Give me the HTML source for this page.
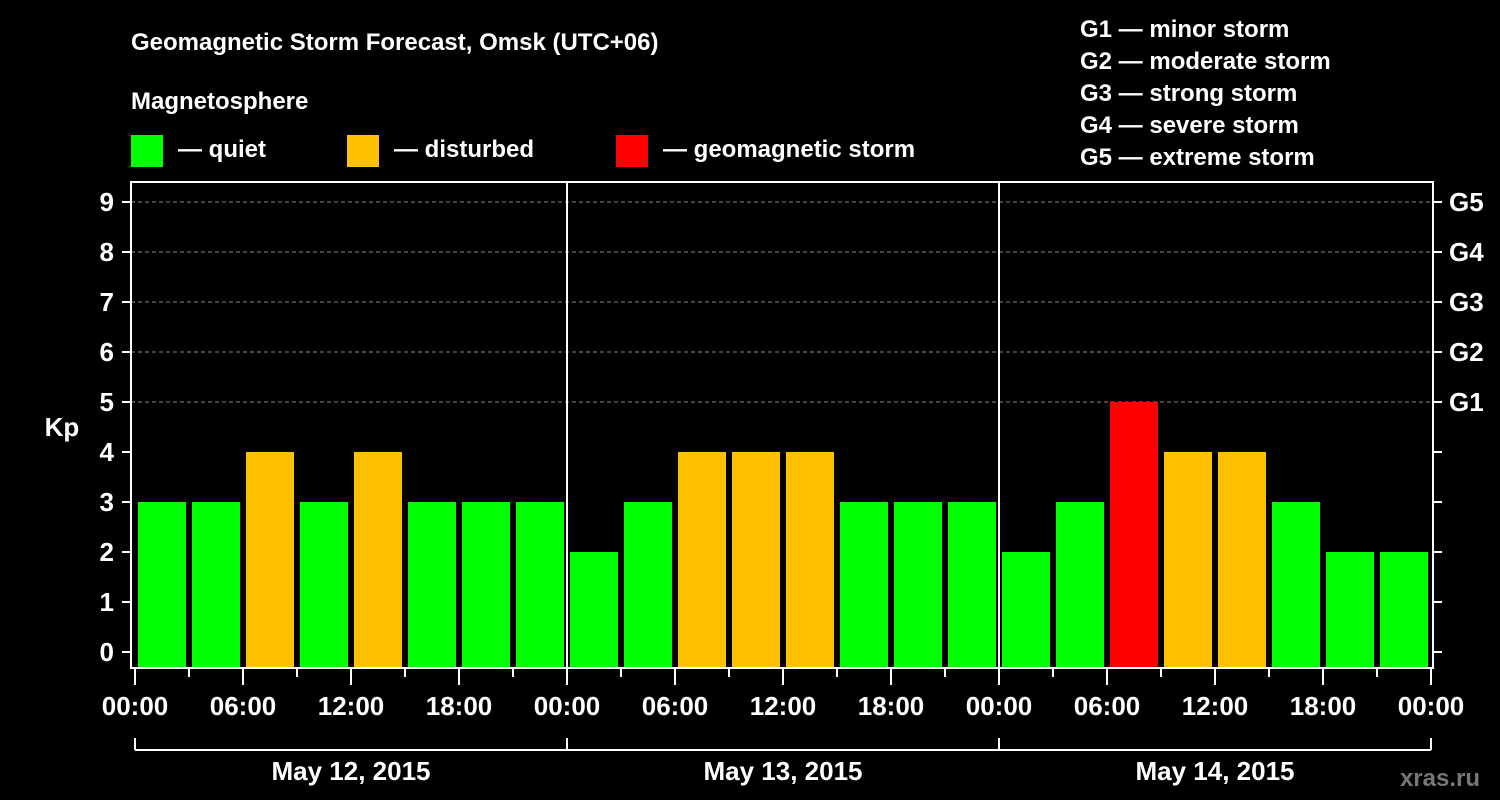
<!DOCTYPE html>
<html><head><meta charset="utf-8"><style>
body{margin:0;background:#000;}
svg{display:block;font-family:"Liberation Sans",sans-serif;font-weight:bold;}
</style></head><body>
<svg id="c" width="1500" height="800">
<rect width="1500" height="800" fill="#000"/>
<text x="131" y="50" fill="#fff" font-size="24">Geomagnetic Storm Forecast, Omsk (UTC+06)</text>
<text x="131" y="109" fill="#fff" font-size="24">Magnetosphere</text>
<g><rect x="131" y="135" width="32" height="32" fill="#00ff00"/><text x="178" y="157" fill="#fff" font-size="24">— quiet</text></g>
<g><rect x="347" y="135" width="32" height="32" fill="#ffc000"/><text x="394" y="157" fill="#fff" font-size="24">— disturbed</text></g>
<g><rect x="616" y="135" width="32" height="32" fill="#ff0000"/><text x="663" y="157" fill="#fff" font-size="24">— geomagnetic storm</text></g>
<g fill="#fff" font-size="24">
<text x="1080" y="37">G1 — minor storm</text><text x="1080" y="69">G2 — moderate storm</text><text x="1080" y="101">G3 — strong storm</text><text x="1080" y="133">G4 — severe storm</text><text x="1080" y="165">G5 — extreme storm</text>
</g>
<text x="62" y="436" fill="#fff" font-size="26" text-anchor="middle">Kp</text>
<text x="1480" y="786" fill="#777" font-size="24" text-anchor="end">xras.ru</text>
<g id="plot"></g>
</svg>
<script>
const values=[3,3,4,3,4,3,3,3, 2,3,4,4,4,3,3,3, 2,3,5,4,4,3,2,2];
const days=["May 12, 2015","May 13, 2015","May 14, 2015"];
const hourLabels=["00:00","06:00","12:00","18:00"];
const gLabels=["G1","G2","G3","G4","G5"];
const NS="http://www.w3.org/2000/svg";
const g=document.getElementById('plot');
const X0=135,DAYW=432,L=131,R=1433,T=182,B=668;
const xs=i=>X0+i*DAYW/8;
const ys=v=>652-v*50;
function mk(t,a,p){const e=document.createElementNS(NS,t);for(const k in a)e.setAttribute(k,a[k]);(p||g).appendChild(e);return e;}
function col(v){return v>=5?'#ff0000':v>=4?'#ffc000':'#00ff00';}
for(let k=1;k<=9;k++){
 if(k>=5){const l=mk('line',{x1:L,x2:R,y1:ys(k),y2:ys(k),stroke:'#888','stroke-dasharray':'4,3','stroke-width':1});
 
 }
}
values.forEach((v,i)=>{
 const r=mk('rect',{x:xs(i)+3,y:ys(v),width:48,height:B-ys(v),fill:col(v)});
 
 
});
for(let d=1;d<3;d++){mk('line',{x1:X0+d*DAYW,x2:X0+d*DAYW,y1:T,y2:B,stroke:'#fff','stroke-width':2});}
const fr=mk('rect',{x:L,y:T,width:R-L,height:B-T,fill:'none',stroke:'#fff','stroke-width':2});


for(let k=0;k<=9;k++){
 mk('line',{x1:122,x2:L,y1:ys(k),y2:ys(k),stroke:'#fff','stroke-width':2});
 mk('line',{x1:R,x2:1442,y1:ys(k),y2:ys(k),stroke:'#fff','stroke-width':2});
 const t=mk('text',{x:114,y:ys(k)+9,fill:'#fff','font-size':26,'text-anchor':'end'});t.textContent=k;
 
 
 if(k>=5){const gt=mk('text',{x:1449,y:ys(k)+9,fill:'#fff','font-size':26});gt.textContent=gLabels[k-5];
 
 }
}
for(let i=0;i<=24;i++){
 const x=xs(i);const major=i%2===0;
 mk('line',{x1:x,x2:x,y1:B,y2:major?685:677,stroke:'#fff','stroke-width':2});
 if(major){const t=mk('text',{x:x,y:715,fill:'#fff','font-size':26,'text-anchor':'middle'});t.textContent=hourLabels[(i/2)%4];
 
 }
}
mk('line',{x1:X0,x2:X0+3*DAYW,y1:750,y2:750,stroke:'#fff','stroke-width':2});
for(let d=0;d<=3;d++)mk('line',{x1:X0+d*DAYW,x2:X0+d*DAYW,y1:738,y2:750,stroke:'#fff','stroke-width':2});
days.forEach((s,d)=>{const t=mk('text',{x:X0+d*DAYW+DAYW/2,y:780,fill:'#fff','font-size':26,'text-anchor':'middle'});t.textContent=s;
 
 });
</script>
</body></html>
